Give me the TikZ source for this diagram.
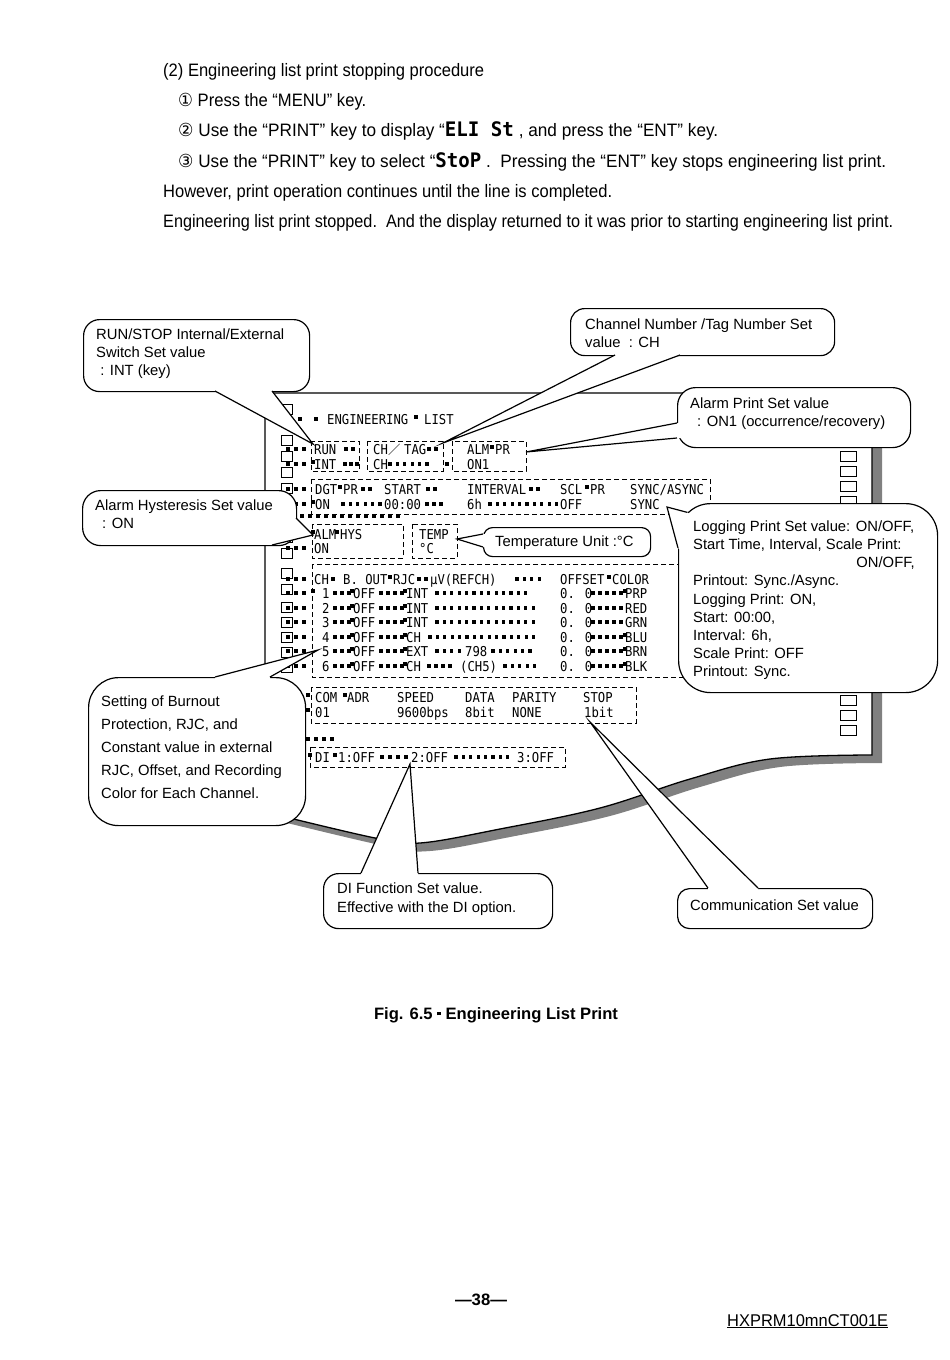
\documentclass[tikz,border=0pt]{standalone}
\usepackage{fontspec}
\usepackage{graphicx}
\usetikzlibrary{calc}
\setmainfont{Liberation Sans}
\newfontfamily\monofont[FakeStretch=0.9]{DejaVu Sans Mono}
\newfontfamily\segfont{DejaVu Sans Mono}
\newfontfamily\circfont{DejaVu Sans}
\newfontfamily\cjkfont{Noto Sans CJK JP}
\newcommand\fitline[2]{\resizebox{#1pt}{\height}{#2}}
\newcommand\capdot{\raisebox{0.45ex}{\rule{0.22em}{0.22em}}}
\tikzset{
  toptext/.style={font=\fontsize{18}{21}\selectfont, inner sep=0pt, anchor=base west},
  btext/.style={font=\fontsize{14.8}{17}\selectfont, inner sep=0pt, anchor=base west},
  mono/.style={font=\monofont\fontsize{13.6}{15}\selectfont, inner sep=0pt, anchor=base west},
  dbox/.style={draw, line width=0.9pt, dash pattern=on 5pt off 3pt},
  bubble/.style={draw, fill=white, line width=1.2pt, inner sep=0pt, anchor=north west},
  bline/.style={line width=1.2pt, line join=miter, miter limit=20},
  hole/.style={draw, fill=white, line width=0.9pt},
  paperline/.style={draw, fill=white, line width=1.3pt},
}
\newcommand\tk[3]{\node[mono] at (#1,{#2+5}) {#3};}
\newcommand\drun[4][7.4]{\foreach \ii in {1,...,#4}{\fill ({#2+(\ii-1)*#1-1.6},{#3-1.6}) rectangle ++(3.2,3.2);}}
\newcommand\tail[4]{\fill[white] #1 -- #2 -- #3 -- ($#3+#4$) -- ($#1+#4$) -- cycle; \draw[bline] #1 -- #2 -- #3;}
\begin{document}
\begin{tikzpicture}[x=1pt,y=-1pt]
\useasboundingbox (0,0) rectangle (950,1360);
\fill[white] (0,0) rectangle (950,1360);

% ---------- top text ----------
\node[toptext] (l1) at (163,76) {\fitline{321}{(2) Engineering list print stopping procedure}};
\node[toptext] (l2) at (178,106) {\fitline{188}{{\circfont ①} Press the “MENU” key.}};
\node[toptext] (l3) at (178,136) {\fitline{540}{{\circfont ②} Use the “PRINT” key to display “{\segfont\bfseries\fontsize{20}{21}\selectfont ELI St} , and press the “ENT” key.}};
\node[toptext] (l4) at (178,167) {\fitline{708}{{\circfont ③} Use the “PRINT” key to select “{\segfont\bfseries\fontsize{20}{21}\selectfont StoP} .\ \ Pressing the “ENT” key stops engineering list print.}};
\node[toptext] (l5) at (163,197) {\fitline{449}{However, print operation continues until the line is completed.}};
\node[toptext] (l6) at (163,227) {\fitline{730}{Engineering list print stopped.\ \ And the display returned to it was prior to starting engineering list print.}};

% ---------- paper ----------
\begin{scope}[shift={(10,8)}]
\fill[black!50] (265,393) -- (872,393) -- plot[smooth,tension=0.6] coordinates {(872,755) (770,759) (690,779) (600,808) (500,829) (420,843) (375,838) (265,812)} -- cycle;
\end{scope}
\path[paperline] (265,393) -- (872,393) -- plot[smooth,tension=0.6] coordinates {(872,755) (770,759) (690,779) (600,808) (500,829) (420,843) (375,838) (265,812)} -- cycle;

% sprocket holes
\foreach \yy in {409,440,456,472,488,504,520,537,553,573,589,607,622,637,652,667}
  \draw[hole] (281,{\yy-5}) rectangle (292,{\yy+5});
\foreach \ii in {0,...,18}
  \draw[hole] (840,{456+15.25*\ii-5}) rectangle (856,{456+15.25*\ii+5});

% ---------- printed list ----------
\drun{300}{419}{1} \drun{316}{419}{1}
\tk{327}{419}{ENGINEERING}
\drun{416}{417}{1}
\tk{424}{419}{LIST}

% RUN / CH/TAG / ALM PR
\drun[8]{288}{449}{3}
\tk{314}{449}{RUN}
\drun[7]{346}{449}{2}
\tk{373}{449}{CH}
\node[mono] at (388,454) {{\cjkfont\fontsize{12.3}{14}\selectfont ／}};
\tk{404}{449}{TAG}
\drun[7]{429}{449}{2}
\tk{467}{449}{ALM}
\drun{492}{447}{1}
\tk{495}{449}{PR}

\drun[8]{288}{464}{3}
\drun{313}{462}{1}
\tk{314}{464}{INT}
\drun[6]{345}{464}{3}
\tk{373}{464}{CH}
\drun{390}{464}{6}
\drun{447}{464}{1}
\tk{467}{464}{ON1}

\draw[dbox] (311,441) rectangle (359,471);
\draw[dbox] (367,441) rectangle (443,471);
\draw[dbox] (452,441) rectangle (526,471);

% DGT row
\drun[8]{288}{489}{3}
\tk{315}{489}{DGT}
\drun{340}{487}{1}
\tk{343}{489}{PR}
\drun[7]{363}{489}{2}
\tk{384}{489}{START}
\drun[7]{428}{489}{2}
\tk{467}{489}{INTERVAL}
\drun[7]{531}{489}{2}
\tk{560}{489}{SCL}
\drun{587}{487}{1}
\tk{590}{489}{PR}
\tk{630}{489}{SYNC/ASYNC}

\drun[8]{288}{504}{3}
\drun{313}{502}{1}
\tk{315}{504}{ON}
\drun{343}{504}{6}
\tk{384}{504}{00:00}
\drun[7]{427}{504}{3}
\tk{467}{504}{6h}
\drun{490}{504}{10}
\tk{560}{504}{OFF}
\tk{630}{504}{SYNC}
\draw[dbox] (311,479) rectangle (710,514);

\drun[8]{286}{516}{15}

% ALM HYS / TEMP
\drun{313}{532}{1}
\tk{314}{534}{ALM}
\drun{337}{532}{1}
\tk{340}{534}{HYS}
\tk{419}{534}{TEMP}
\drun[8]{288}{548}{3}
\tk{314}{548}{ON}
\tk{419}{548}{°C}
\draw[dbox] (312,524) rectangle (403,558);
\draw[dbox] (412,524) rectangle (457,558);

% channel table
\drun[8]{288}{579}{3}
\tk{314}{579}{CH}
\drun{333}{579}{1}
\tk{343}{579}{B. OUT}
\drun{390}{577}{1}
\tk{393}{579}{RJC}
\drun[7]{419}{579}{2}
\tk{430}{579}{μV(REFCH)}
\drun{517}{579}{4}
\tk{560}{579}{OFFSET}
\drun{609}{577}{1}
\tk{612}{579}{COLOR}

% row 1
\drun[8]{288}{593}{3} \drun{313}{591}{1}
\tk{322}{593}{1}
\drun[7]{335}{593}{3} \drun{352}{591}{1}
\tk{353}{593}{OFF}
\drun[7]{381}{593}{4} \drun{405}{591}{1}
\tk{406}{593}{INT}
\drun{437}{593}{13}
\tk{560}{593}{0. 0}
\drun[7]{593}{593}{5} \drun{625}{591}{1}
\tk{625}{593}{PRP}
% row 2
\drun[8]{288}{608}{3}
\tk{322}{608}{2}
\drun[7]{335}{608}{3} \drun{352}{606}{1}
\tk{353}{608}{OFF}
\drun[7]{381}{608}{4} \drun{405}{606}{1}
\tk{406}{608}{INT}
\drun{437}{608}{14}
\tk{560}{608}{0. 0}
\drun[7]{593}{608}{5}
\tk{625}{608}{RED}
% row 3
\drun[8]{288}{622}{3}
\tk{322}{622}{3}
\drun[7]{335}{622}{3} \drun{352}{620}{1}
\tk{353}{622}{OFF}
\drun[7]{381}{622}{4} \drun{405}{620}{1}
\tk{406}{622}{INT}
\drun{437}{622}{14}
\tk{560}{622}{0. 0}
\drun[7]{593}{622}{5}
\tk{625}{622}{GRN}
% row 4
\drun[8]{288}{637}{3}
\tk{322}{637}{4}
\drun[7]{335}{637}{3} \drun{352}{635}{1}
\tk{353}{637}{OFF}
\drun[7]{381}{637}{4} \drun{405}{635}{1}
\tk{406}{637}{CH}
\drun{430}{637}{15}
\tk{560}{637}{0. 0}
\drun[7]{593}{637}{5} \drun{625}{635}{1}
\tk{625}{637}{BLU}
% row 5
\drun[8]{288}{651}{3}
\tk{322}{651}{5}
\drun[7]{335}{651}{3} \drun{352}{649}{1}
\tk{353}{651}{OFF}
\drun[7]{381}{651}{4} \drun{405}{649}{1}
\tk{406}{651}{EXT}
\drun{437}{651}{4}
\tk{465}{651}{798}
\drun{493}{651}{6}
\tk{560}{651}{0. 0}
\drun[7]{593}{651}{5} \drun{625}{649}{1}
\tk{625}{651}{BRN}
% row 6
\drun[8]{288}{666}{3}
\tk{322}{666}{6}
\drun[7]{335}{666}{3} \drun{352}{664}{1}
\tk{353}{666}{OFF}
\drun[7]{381}{666}{4} \drun{405}{664}{1}
\tk{406}{666}{CH}
\drun[7]{429}{666}{4}
\tk{460}{666}{(CH5)}
\drun{505}{666}{5}
\tk{560}{666}{0. 0}
\drun[7]{593}{666}{5} \drun{625}{664}{1}
\tk{625}{666}{BLK}
\draw[dbox] (312,564) rectangle (712,677);

% communication
\drun{308}{695}{1}
\tk{315}{697}{COM}
\drun{345}{695}{1}
\tk{347}{697}{ADR}
\tk{397}{697}{SPEED}
\tk{465}{697}{DATA}
\tk{512}{697}{PARITY}
\tk{583}{697}{STOP}
\drun{308}{710}{1}
\tk{315}{712}{01}
\tk{397}{712}{9600bps}
\tk{465}{712}{8bit}
\tk{512}{712}{NONE}
\tk{584}{712}{1bit}
\draw[dbox] (311,687) rectangle (636,723);

\drun[8]{308}{739}{4}

% DI
\drun{310}{755}{1}
\tk{315}{757}{DI}
\drun{335}{755}{1}
\tk{338}{757}{1:OFF}
\drun[8]{382}{757}{4}
\tk{411}{757}{2:OFF}
\drun{456}{757}{8}
\tk{517}{757}{3:OFF}
\draw[dbox] (310,747) rectangle (565,767);

% ---------- callouts ----------
\coordinate (runtip) at (313,444);
\coordinate (chtip) at (443,443);
\coordinate (alptip) at (526,452);
\coordinate (hystip) at (313,535);
\coordinate (temptip) at (457,539);
\coordinate (logtip) at (667,507);
\coordinate (burntip) at (318,650);
\coordinate (ditip) at (410,764);
\coordinate (comtip) at (590,722);

\node[bubble, rounded corners=16pt, minimum width=226pt, minimum height=72pt] (runb) at (83,319) {};
\tail{(215,391)}{(runtip)}{(272,391)}{(0,-4)}
\node[btext] (runb1) at (96,339) {RUN/STOP Internal/External};
\node[btext] (runb2) at (96,357) {Switch Set value};
\node[btext] (runb3) at (96,375) {\ : INT (key)};

\node[bubble, rounded corners=14pt, minimum width=264pt, minimum height=47pt] (chb) at (570,308) {};
\tail{(615,355)}{(chtip)}{(680,355)}{(0,-4)}
\node[btext] (chb1) at (585,329) {Channel Number /Tag Number Set};
\node[btext] (chb2) at (585,347) {value\ \ : CH};

\node[bubble, rounded corners=18pt, minimum width=233pt, minimum height=60pt] (alpb) at (677,387) {};
\tail{(677,423)}{(alptip)}{(677,438)}{(4,0)}
\node[btext] (alpb1) at (690,408) {Alarm Print Set value};
\node[btext] (alpb2) at (697,426) {: ON1 (occurrence/recovery)};

\node[bubble, rounded corners=18pt, minimum width=214pt, minimum height=55pt] (hysb) at (82,490) {};
\tail{(296,518)}{(hystip)}{(272,545)}{(-6,-6)}
\node[btext] (hysb1) at (95,510) {Alarm Hysteresis Set value};
\node[btext] (hysb2) at (102,528) {: ON};

\node[bubble, rounded corners=9pt, minimum width=167pt, minimum height=29pt] (tempb) at (483,527) {};
\tail{(483,534)}{(temptip)}{(483,547)}{(4,0)}
\node[btext] (tempb1) at (495,546) {Temperature Unit :°C};

\node[bubble, rounded corners=32pt, minimum width=259pt, minimum height=189pt] (logb) at (678,503) {};
\tail{(687.4,512.4)}{(logtip)}{(678,548)}{(8,6)}
\node[btext] (logb1) at (693,531) {Logging Print Set value: ON/OFF,};
\node[btext] (logb2) at (693,549) {Start Time, Interval, Scale Print:};
\node[btext, anchor=base east] (logb3) at (915,567) {ON/OFF,};
\node[btext] (logb4) at (693,585) {Printout: Sync./Async.};
\node[btext] (logb5) at (693,604) {Logging Print: ON,};
\node[btext] (logb6) at (693,622) {Start: 00:00,};
\node[btext] (logb7) at (693,640) {Interval: 6h,};
\node[btext] (logb8) at (693,658) {Scale Print: OFF};
\node[btext] (logb9) at (693,676) {Printout: Sync.};

\node[bubble, rounded corners=30pt, minimum width=217pt, minimum height=148pt] (burnb) at (88,677) {};
\tail{(215,677)}{(burntip)}{(270,677)}{(0,4)}
\node[btext] (burnb1) at (101,706) {Setting of Burnout};
\node[btext] (burnb2) at (101,729) {Protection, RJC, and};
\node[btext] (burnb3) at (101,752) {Constant value in external};
\node[btext] (burnb4) at (101,775) {RJC, Offset, and Recording};
\node[btext] (burnb5) at (101,798) {Color for Each Channel.};

\node[bubble, rounded corners=15pt, minimum width=229pt, minimum height=55pt] (dib) at (323,873) {};
\tail{(361,873)}{(ditip)}{(418,873)}{(0,4)}
\node[btext] (dib1) at (337,893) {DI Function Set value.};
\node[btext] (dib2) at (337,912) {Effective with the DI option.};

\node[bubble, rounded corners=12pt, minimum width=195pt, minimum height=40pt] (comb) at (677,888) {};
\tail{(708,888)}{(comtip)}{(758,888)}{(0,4)}
\node[btext] (comb1) at (690,910) {Communication Set value};

% ---------- caption and footer ----------
\node[font=\bfseries\fontsize{16.5}{18}\selectfont, inner sep=0pt] (cap) at (496,1015) {\fitline{244}{Fig. 6.5 \capdot{} Engineering List Print}};
\node[font=\bfseries\fontsize{16.5}{18}\selectfont, inner sep=0pt] (pg) at (481,1300) {\fitline{52}{—38—}};
\node[font=\fontsize{17}{18}\selectfont, inner sep=0pt, anchor=base west] (doc) at (727,1326) {\fitline{161}{\underline{HXPRM10mnCT001E}}};
\end{tikzpicture}
\end{document}
